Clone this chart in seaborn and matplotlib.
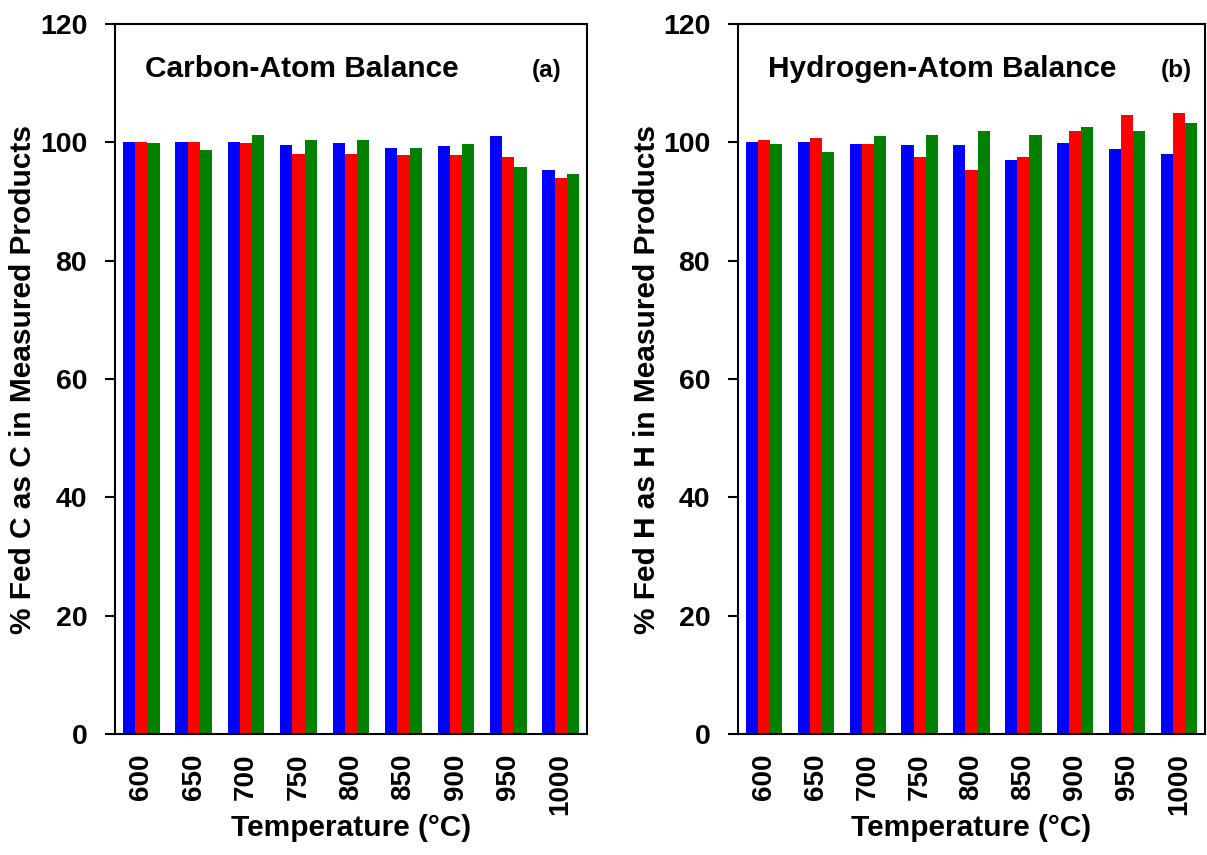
import matplotlib
matplotlib.use("Agg")
import matplotlib.pyplot as plt
import seaborn as sns
import pandas as pd

# Reactor temperatures (°C) shared by both panels
temperatures = ["600", "650", "700", "750", "800", "850", "900", "950", "1000"]
series_names = ["Set 1", "Set 2", "Set 3"]
series_colors = ["#0000FF", "#FF0000", "#008000"]

# Carbon-atom balance (% of fed C recovered as C in measured products)
carbon_set1 = [100.1, 100.1, 100.1, 99.6, 99.9, 99.1, 99.4, 101.0, 95.3]
carbon_set2 = [100.1, 100.1, 99.9, 98.0, 98.0, 97.9, 97.8, 97.6, 94.0]
carbon_set3 = [99.9, 98.7, 101.3, 100.4, 100.4, 99.1, 99.7, 95.8, 94.6]

# Hydrogen-atom balance (% of fed H recovered as H in measured products)
hydrogen_set1 = [100.1, 100.1, 99.8, 99.6, 99.6, 97.0, 99.9, 98.9, 98.1]
hydrogen_set2 = [100.4, 100.8, 99.8, 97.6, 95.3, 97.6, 101.9, 104.6, 105.0]
hydrogen_set3 = [99.8, 98.3, 101.0, 101.3, 102.0, 101.3, 102.6, 102.0, 103.3]

y_ticks = [0, 20, 40, 60, 80, 100, 120]


def long_table(values_by_series):
    rows = []
    for name, vals in zip(series_names, values_by_series):
        for t, v in zip(temperatures, vals):
            rows.append({"Temperature": t, "Series": name, "Value": v})
    return pd.DataFrame(rows)


sns.set_style("ticks")
plt.rcParams["font.family"] = ["Liberation Sans", "DejaVu Sans"]
plt.rcParams["font.weight"] = "bold"
plt.rcParams["text.color"] = "black"
plt.rcParams["axes.labelcolor"] = "black"
plt.rcParams["xtick.color"] = "black"
plt.rcParams["ytick.color"] = "black"
plt.rcParams["axes.edgecolor"] = "black"

fig = plt.figure(figsize=(12.07, 8.55), dpi=100)
ax_c = fig.add_axes([0.0953, 0.1415, 0.3910, 0.8304])
ax_h = fig.add_axes([0.6114, 0.1415, 0.3869, 0.8304])

panels = [
    (ax_c, [carbon_set1, carbon_set2, carbon_set3],
     "% Fed C as C in Measured Products", "Carbon-Atom Balance", "(a)", 0.915),
    (ax_h, [hydrogen_set1, hydrogen_set2, hydrogen_set3],
     "% Fed H as H in Measured Products", "Hydrogen-Atom Balance", "(b)", 0.938),
]

for ax, data, ylabel, title, tag, tag_x in panels:
    df = long_table(data)
    sns.barplot(data=df, x="Temperature", y="Value", hue="Series",
                order=temperatures, hue_order=series_names,
                palette=series_colors, saturation=1, width=0.7, gap=0,
                linewidth=0, legend=False, errorbar=None, ax=ax)
    ax.set_xlim(-0.5, len(temperatures) - 0.5)
    ax.set_ylim(0, 120)
    ax.set_yticks(y_ticks)
    ax.set_yticklabels([str(v) for v in y_ticks], fontsize=20.5,
                       fontweight="bold", color="black")
    ax.set_xticks(range(len(temperatures)))
    ax.set_xticklabels(temperatures, rotation=90, fontsize=20,
                       fontweight="bold", color="black")
    ax.tick_params(axis="y", direction="out", length=7, width=1.5, pad=13,
                   color="black")
    ax.tick_params(axis="x", length=0, pad=14)
    for sp in ax.spines.values():
        sp.set_visible(True)
        sp.set_linewidth(1.5)
        sp.set_color("black")
    ax.set_xlabel("Temperature (°C)", fontsize=21.5, fontweight="bold",
                  color="black")
    ax.xaxis.set_label_coords(0.5, -0.112)
    ax.set_ylabel(ylabel, fontsize=21.5, fontweight="bold", color="black")
    ax.yaxis.set_label_coords(-0.165, 0.5)
    ax.text(0.064, 0.925, title, transform=ax.transAxes, fontsize=21.5,
            fontweight="bold", ha="left", va="baseline", color="black")
    ax.text(tag_x, 0.935, tag, transform=ax.transAxes, fontsize=17.5,
            fontweight="bold", ha="center", va="center", color="black")

fig.savefig("out.png", dpi=100)
